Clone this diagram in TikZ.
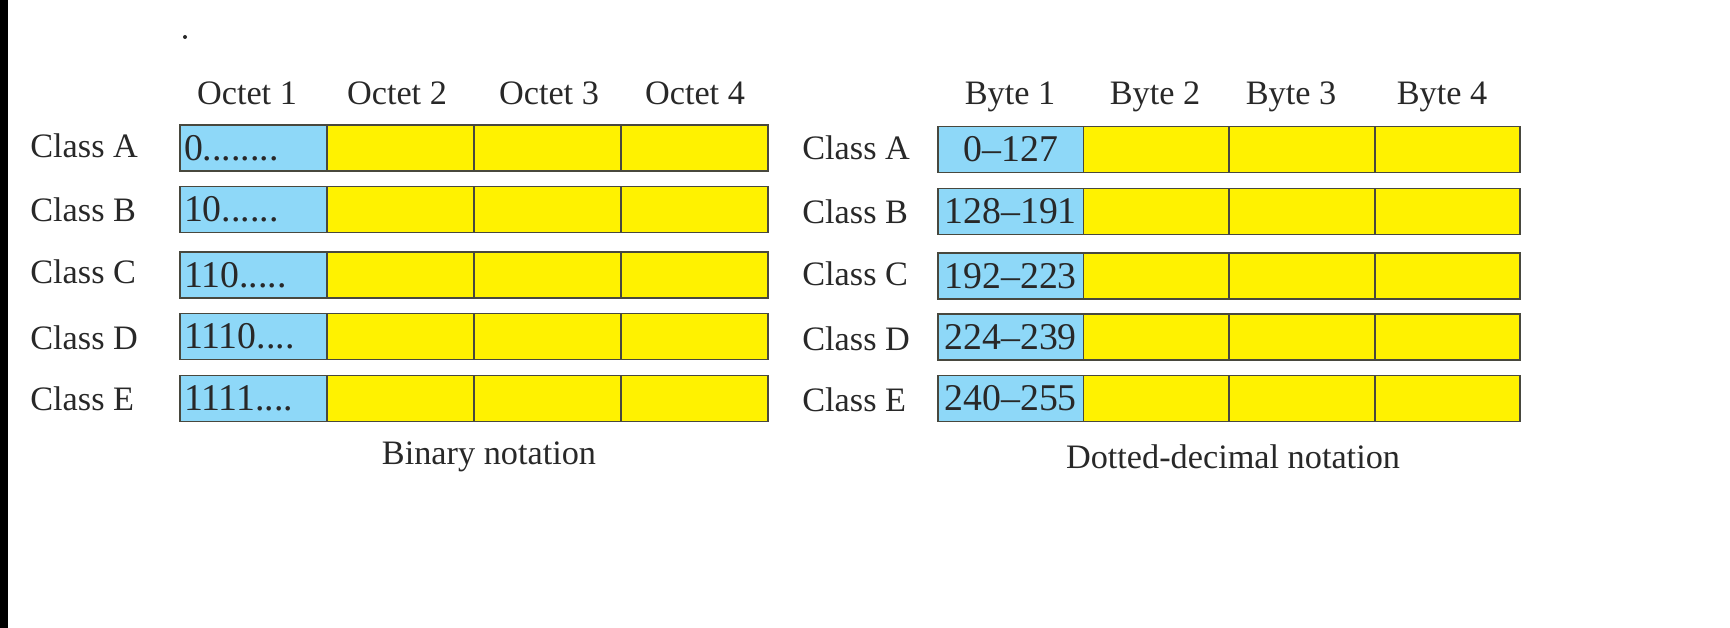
\documentclass[tikz,border=0pt]{standalone}
\usepackage{fontspec}
\setmainfont{Liberation Serif}
\definecolor{netblue}{RGB}{142,216,248}
\definecolor{hostyellow}{RGB}{255,242,0}
\definecolor{edgegray}{RGB}{72,72,62}
\definecolor{inkgray}{RGB}{40,40,40}

\tikzset{
    headtext/.style={text=inkgray, inner sep=0pt, font=\fontsize{19.5}{22}\selectfont},
    classtext/.style={headtext, anchor=west},
    cell/.style={rectangle, draw=edgegray, line width=1.1pt, minimum height=0.92cm, inner sep=0pt, text=inkgray, font=\fontsize{21.5}{24}\selectfont},
    bincell/.style={cell, fill=netblue, minimum width=2.94cm, text width=2.78cm, align=left, inner xsep=0.08cm},
    octcell/.style={cell, fill=hostyellow, minimum width=2.94cm},
    deccell/.style={cell, fill=netblue, minimum width=2.91cm},
    bytecell/.style={cell, fill=hostyellow, minimum width=2.91cm}
}

\begin{document}
\begin{tikzpicture}[x=0.02cm, y=-0.02cm]
        \useasboundingbox (0,0) rectangle (1730,628);
        \fill[black] (0,0) rectangle (8,628);
        \fill[inkgray] (185,37) circle (2);

        % binary notation
        \node[headtext] (octet-1) at(247,93){Octet 1};
        \node[headtext] (octet-2) at(397,93){Octet 2};
        \node[headtext] (octet-3) at(549,93){Octet 3};
        \node[headtext] (octet-4) at(695,93){Octet 4};

        \node[classtext] (A-bin) at(30,146){Class A};
        \node[classtext] (B-bin) at(30,210){Class B};
        \node[classtext] (C-bin) at(30,272){Class C};
        \node[classtext] (D-bin) at(30,338){Class D};
        \node[classtext] (E-bin) at(30,399){Class E};

        \node[bincell] (A-octet1) at(253.5,148){0........};
        \node[octcell] (A-octet2) at(400.5,148){};
        \node[octcell] (A-octet3) at(547.5,148){};
        \node[octcell] (A-octet4) at(694.5,148){};

        \node[bincell] (B-octet1) at(253.5,209.5){10......};
        \node[octcell] (B-octet2) at(400.5,209.5){};
        \node[octcell] (B-octet3) at(547.5,209.5){};
        \node[octcell] (B-octet4) at(694.5,209.5){};

        \node[bincell] (C-octet1) at(253.5,275){110.....};
        \node[octcell] (C-octet2) at(400.5,275){};
        \node[octcell] (C-octet3) at(547.5,275){};
        \node[octcell] (C-octet4) at(694.5,275){};

        \node[bincell] (D-octet1) at(253.5,336.5){1110....};
        \node[octcell] (D-octet2) at(400.5,336.5){};
        \node[octcell] (D-octet3) at(547.5,336.5){};
        \node[octcell] (D-octet4) at(694.5,336.5){};

        \node[bincell] (E-octet1) at(253.5,398.5){1111....};
        \node[octcell] (E-octet2) at(400.5,398.5){};
        \node[octcell] (E-octet3) at(547.5,398.5){};
        \node[octcell] (E-octet4) at(694.5,398.5){};

        \node[headtext] (bin-caption) at(489,457){Binary notation};

        % dotted-decimal notation
        \node[headtext] (byte-1) at(1010,97){Byte 1};
        \node[headtext] (byte-2) at(1155,97){Byte 2};
        \node[headtext] (byte-3) at(1291,97){Byte 3};
        \node[headtext] (byte-4) at(1442,97){Byte 4};

        \node[classtext] (A-dec) at(802,148){Class A};
        \node[classtext] (B-dec) at(802,212){Class B};
        \node[classtext] (C-dec) at(802,274){Class C};
        \node[classtext] (D-dec) at(802,339){Class D};
        \node[classtext] (E-dec) at(802,400){Class E};

        \node[deccell] (A-byte1) at(1010.75,149.5){0--127};
        \node[bytecell] (A-byte2) at(1156.25,149.5){};
        \node[bytecell] (A-byte3) at(1301.75,149.5){};
        \node[bytecell] (A-byte4) at(1447.25,149.5){};

        \node[deccell] (B-byte1) at(1010.75,211.5){128--191};
        \node[bytecell] (B-byte2) at(1156.25,211.5){};
        \node[bytecell] (B-byte3) at(1301.75,211.5){};
        \node[bytecell] (B-byte4) at(1447.25,211.5){};

        \node[deccell] (C-byte1) at(1010.75,276){192--223};
        \node[bytecell] (C-byte2) at(1156.25,276){};
        \node[bytecell] (C-byte3) at(1301.75,276){};
        \node[bytecell] (C-byte4) at(1447.25,276){};

        \node[deccell] (D-byte1) at(1010.75,337){224--239};
        \node[bytecell] (D-byte2) at(1156.25,337){};
        \node[bytecell] (D-byte3) at(1301.75,337){};
        \node[bytecell] (D-byte4) at(1447.25,337){};

        \node[deccell] (E-byte1) at(1010.75,398.5){240--255};
        \node[bytecell] (E-byte2) at(1156.25,398.5){};
        \node[bytecell] (E-byte3) at(1301.75,398.5){};
        \node[bytecell] (E-byte4) at(1447.25,398.5){};

        \node[headtext] (dec-caption) at(1233,457){Dotted-decimal notation};

      \end{tikzpicture}
\end{document}
